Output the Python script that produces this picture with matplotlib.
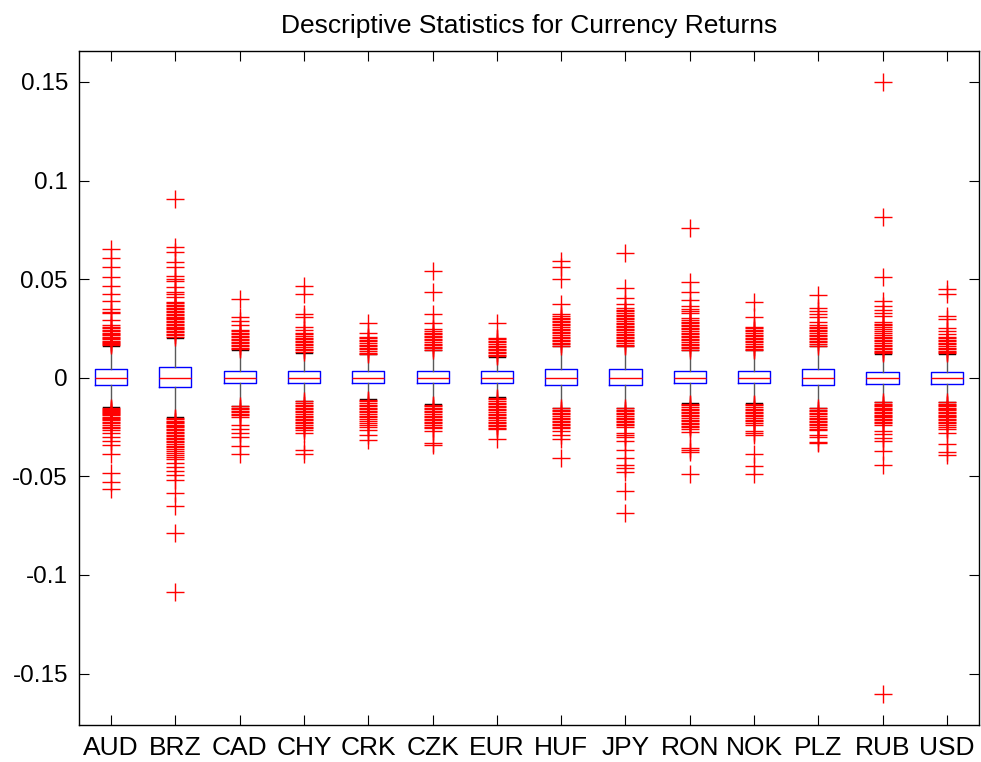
import numpy as np
import matplotlib
matplotlib.use("Agg")
import matplotlib.pyplot as plt

plt.rcParams['font.family'] = ['Liberation Sans', 'DejaVu Sans']

names = ['AUD', 'BRZ', 'CAD', 'CHY', 'CRK', 'CZK', 'EUR', 'HUF', 'JPY', 'RON', 'NOK', 'PLZ', 'RUB', 'USD']

# box stats
q1 = [-0.0039, -0.0049, -0.0027, -0.0029, -0.0029, -0.0029, -0.0029, -0.0039, -0.0039, -0.0029, -0.0029, -0.0039, -0.0031, -0.0031]
med = [0.0, 0.0, 0.0, 0.0, 0.0, 0.0, 0.0, 0.0, 0.0, 0.0, 0.0, 0.0, 0.0, 0.0]
q3 = [0.0046, 0.0056, 0.0035, 0.0035, 0.0035, 0.0035, 0.0035, 0.0046, 0.0046, 0.0035, 0.0035, 0.0046, 0.0031, 0.0031]
whislo = [-0.0150, -0.0198, -0.0142, -0.0118, -0.0110, -0.0134, -0.0100, -0.0152, -0.0152, -0.0130, -0.0130, -0.0152, -0.0122, -0.0122]
whishi = [0.0160, 0.0203, 0.0140, 0.0128, 0.0120, 0.0140, 0.0106, 0.0160, 0.0160, 0.0140, 0.0140, 0.0160, 0.0122, 0.0122]

# outliers
aud = [0.0654, 0.0605, 0.0561, 0.0512, 0.0465, 0.0424, 0.0389, 0.0347, 0.0335, 0.0326, 0.0292, 0.0267, 0.0259, 0.0250,
       0.0243, 0.0236, 0.0228, 0.0221, 0.0215, 0.0208, 0.0201, 0.0195, 0.0188, 0.0181, 0.0176, 0.0170, 0.0165,
       -0.0153, -0.0158, -0.0163, -0.0169, -0.0174, -0.0180, -0.0186, -0.0191, -0.0197, -0.0203, -0.0210, -0.0216,
       -0.0224, -0.0231, -0.0240, -0.0248, -0.0257, -0.0265, -0.0282, -0.0303, -0.0323, -0.0341, -0.0387, -0.0482,
       -0.0527, -0.0566]
brz = [0.0908, 0.0661, 0.0636, 0.0588, 0.0560, 0.0515, 0.0503, 0.0492, 0.0461, 0.0436, 0.0424, 0.0411, 0.0385, 0.0378,
       0.0370, 0.0362, 0.0355, 0.0347, 0.0340, 0.0332, 0.0325, 0.0318, 0.0310, 0.0303, 0.0296, 0.0288, 0.0281, 0.0274,
       0.0266, 0.0259, 0.0252, 0.0245, 0.0238, 0.0231, 0.0224, 0.0216, 0.0208,
       -0.0203, -0.0210, -0.0217, -0.0224, -0.0231, -0.0238, -0.0245, -0.0252, -0.0259, -0.0266, -0.0273, -0.0280,
       -0.0288, -0.0296, -0.0304, -0.0312, -0.0320, -0.0328, -0.0336, -0.0344, -0.0352, -0.0360, -0.0370, -0.0380,
       -0.0390, -0.0400, -0.0410, -0.0434, -0.0452, -0.0472, -0.0494, -0.0520, -0.0587, -0.0651, -0.0786, -0.1085]
cad = [0.0400, 0.0309, 0.0287, 0.0267, 0.0242, 0.0235, 0.0228, 0.0220, 0.0212, 0.0205, 0.0198, 0.0190, 0.0182, 0.0175,
       0.0168, 0.0160, 0.0152, 0.0145,
       -0.0145, -0.0152, -0.0160, -0.0167, -0.0175, -0.0182, -0.0190, -0.0198, -0.0242, -0.0262, -0.0282, -0.0303,
       -0.0345, -0.0387]
chy = [0.0465, 0.0424, 0.0323, 0.0310, 0.0259, 0.0242, 0.0228, 0.0220, 0.0212, 0.0204, 0.0196, 0.0188, 0.0180, 0.0172,
       0.0164, 0.0156, 0.0148, 0.0140, 0.0133,
       -0.0120, -0.0128, -0.0136, -0.0144, -0.0152, -0.0160, -0.0168, -0.0176, -0.0184, -0.0192, -0.0200, -0.0208,
       -0.0216, -0.0224, -0.0232, -0.0240, -0.0248, -0.0257, -0.0265, -0.0282, -0.0367, -0.0387]
crk = [0.0276, 0.0225, 0.0208, 0.0200, 0.0192, 0.0184, 0.0176, 0.0168, 0.0160, 0.0152, 0.0144, 0.0136, 0.0128, 0.0122,
       -0.0112, -0.0120, -0.0128, -0.0136, -0.0144, -0.0152, -0.0160, -0.0168, -0.0176, -0.0184, -0.0192, -0.0200,
       -0.0210, -0.0220, -0.0230, -0.0240, -0.0248, -0.0265, -0.0290, -0.0316]
czk = [0.0541, 0.0436, 0.0321, 0.0279, 0.0245, 0.0237, 0.0229, 0.0221, 0.0213, 0.0205, 0.0197, 0.0189, 0.0181, 0.0173,
       0.0165, 0.0157, 0.0149, 0.0142,
       -0.0136, -0.0144, -0.0152, -0.0160, -0.0168, -0.0176, -0.0184, -0.0192, -0.0200, -0.0208, -0.0216, -0.0224,
       -0.0232, -0.0240, -0.0248, -0.0257, -0.0270, -0.0333, -0.0343]
eur = [0.0276, 0.0203, 0.0195, 0.0187, 0.0179, 0.0171, 0.0163, 0.0155, 0.0147, 0.0139, 0.0131, 0.0123, 0.0115, 0.0108,
       -0.0102, -0.0110, -0.0118, -0.0126, -0.0134, -0.0142, -0.0150, -0.0158, -0.0166, -0.0174, -0.0182, -0.0190,
       -0.0198, -0.0206, -0.0214, -0.0222, -0.0230, -0.0238, -0.0246, -0.0254, -0.0262, -0.0313]
huf = [0.0592, 0.0563, 0.0499, 0.0372, 0.0321, 0.0313, 0.0305, 0.0297, 0.0289, 0.0281, 0.0273, 0.0265, 0.0257, 0.0249,
       0.0241, 0.0233, 0.0225, 0.0217, 0.0209, 0.0201, 0.0193, 0.0185, 0.0177, 0.0169, 0.0162,
       -0.0154, -0.0162, -0.0170, -0.0178, -0.0186, -0.0194, -0.0202, -0.0210, -0.0218, -0.0226, -0.0234, -0.0242,
       -0.0250, -0.0257, -0.0270, -0.0290, -0.0313, -0.0407]
jpy = [0.0634, 0.0456, 0.0406, 0.0372, 0.0352, 0.0344, 0.0336, 0.0328, 0.0320, 0.0312, 0.0304, 0.0296, 0.0288, 0.0280,
       0.0272, 0.0264, 0.0256, 0.0248, 0.0240, 0.0232, 0.0224, 0.0216, 0.0208, 0.0200, 0.0192, 0.0184, 0.0176, 0.0168,
       0.0162,
       -0.0154, -0.0162, -0.0170, -0.0178, -0.0186, -0.0194, -0.0202, -0.0210, -0.0218, -0.0226, -0.0234, -0.0242,
       -0.0248, -0.0282, -0.0292, -0.0303, -0.0321, -0.0367, -0.0409, -0.0443, -0.0460, -0.0477, -0.0575, -0.0685]
ron = [0.0761, 0.0487, 0.0436, 0.0394, 0.0363, 0.0350, 0.0338, 0.0326, 0.0301, 0.0293, 0.0285, 0.0277, 0.0269, 0.0261,
       0.0253, 0.0245, 0.0237, 0.0229, 0.0221, 0.0213, 0.0205, 0.0197, 0.0189, 0.0181, 0.0173, 0.0165, 0.0157, 0.0149,
       0.0142,
       -0.0132, -0.0140, -0.0148, -0.0156, -0.0164, -0.0172, -0.0180, -0.0188, -0.0196, -0.0204, -0.0212, -0.0220,
       -0.0228, -0.0236, -0.0244, -0.0252, -0.0260, -0.0274, -0.0355, -0.0367, -0.0379, -0.0490]
nok = [0.0382, 0.0309, 0.0259, 0.0251, 0.0243, 0.0235, 0.0227, 0.0219, 0.0211, 0.0203, 0.0195, 0.0187, 0.0179, 0.0171,
       0.0163, 0.0155, 0.0147, 0.0141,
       -0.0132, -0.0140, -0.0148, -0.0156, -0.0164, -0.0172, -0.0180, -0.0188, -0.0196, -0.0204, -0.0212, -0.0220,
       -0.0230, -0.0240, -0.0270, -0.0280, -0.0290, -0.0387, -0.0448, -0.0490]
plz = [0.0419, 0.0352, 0.0338, 0.0324, 0.0309, 0.0284, 0.0267, 0.0259, 0.0251, 0.0243, 0.0235, 0.0227, 0.0219, 0.0211,
       0.0203, 0.0195, 0.0187, 0.0179, 0.0171, 0.0163,
       -0.0154, -0.0162, -0.0170, -0.0178, -0.0186, -0.0194, -0.0202, -0.0210, -0.0218, -0.0226, -0.0234, -0.0242,
       -0.0250, -0.0258, -0.0265, -0.0290, -0.0303, -0.0326, -0.0333]
rub = [0.1498, 0.0815, 0.0510, 0.0389, 0.0362, 0.0345, 0.0330, 0.0314, 0.0284, 0.0275, 0.0265, 0.0255, 0.0245, 0.0235,
       0.0225, 0.0215, 0.0209, 0.0200, 0.0192, 0.0184, 0.0176, 0.0168, 0.0160, 0.0152, 0.0144, 0.0136, 0.0129, 0.0124,
       -0.0124, -0.0131, -0.0138, -0.0145, -0.0152, -0.0159, -0.0166, -0.0173, -0.0180, -0.0187, -0.0194, -0.0201,
       -0.0208, -0.0216, -0.0224, -0.0232, -0.0240, -0.0270, -0.0287, -0.0305, -0.0322, -0.0371, -0.0444, -0.1604]
usd = [0.0450, 0.0427, 0.0314, 0.0296, 0.0253, 0.0238, 0.0224, 0.0209, 0.0201, 0.0193, 0.0185, 0.0177, 0.0169, 0.0161,
       0.0153, 0.0145, 0.0137, 0.0129, 0.0124,
       -0.0124, -0.0131, -0.0138, -0.0145, -0.0152, -0.0159, -0.0166, -0.0173, -0.0180, -0.0187, -0.0194, -0.0201,
       -0.0208, -0.0216, -0.0224, -0.0232, -0.0240, -0.0250, -0.0262, -0.0279, -0.0334, -0.0375, -0.0392]

outliers = [aud, brz, cad, chy, crk, czk, eur, huf, jpy, ron, nok, plz, rub, usd]

stats = []
for i in range(len(names)):
    stats.append({'label': names[i], 'q1': q1[i], 'med': med[i], 'q3': q3[i],
                  'whislo': whislo[i], 'whishi': whishi[i], 'fliers': np.array(outliers[i])})

fig = plt.figure(figsize=(9.81, 7.62), dpi=100)
ax = fig.add_axes([79/981, 1-725/762, 900/981, 674/762])

ax.bxp(stats, widths=0.5, capwidths=0.25,
       boxprops=dict(color='#0000ff', linewidth=1),
       medianprops=dict(color='#ff0000', linewidth=1),
       whiskerprops=dict(color='0.35', linewidth=1),
       capprops=dict(color='black', linewidth=1),
       flierprops=dict(marker='+', markeredgecolor='#ff0000', markersize=13, markeredgewidth=1, linestyle='none'))

ax.set_xlim(0.5, 14.5)
ax.set_ylim(-0.1761, 0.1657)
ax.set_yticks([-0.15, -0.1, -0.05, 0, 0.05, 0.1, 0.15])
ax.set_yticklabels(['-0.15', '-0.1', '-0.05', '0', '0.05', '0.1', '0.15'])
ax.tick_params(direction='in', top=True, right=True, length=7, width=0.8, labelsize=17.5, pad=8)
ax.tick_params(axis='x', labelsize=19)
for s in ax.spines.values():
    s.set_linewidth(1)
ax.set_title('Descriptive Statistics for Currency Returns', fontsize=19, pad=13)

fig.savefig('out.png', dpi=100)
